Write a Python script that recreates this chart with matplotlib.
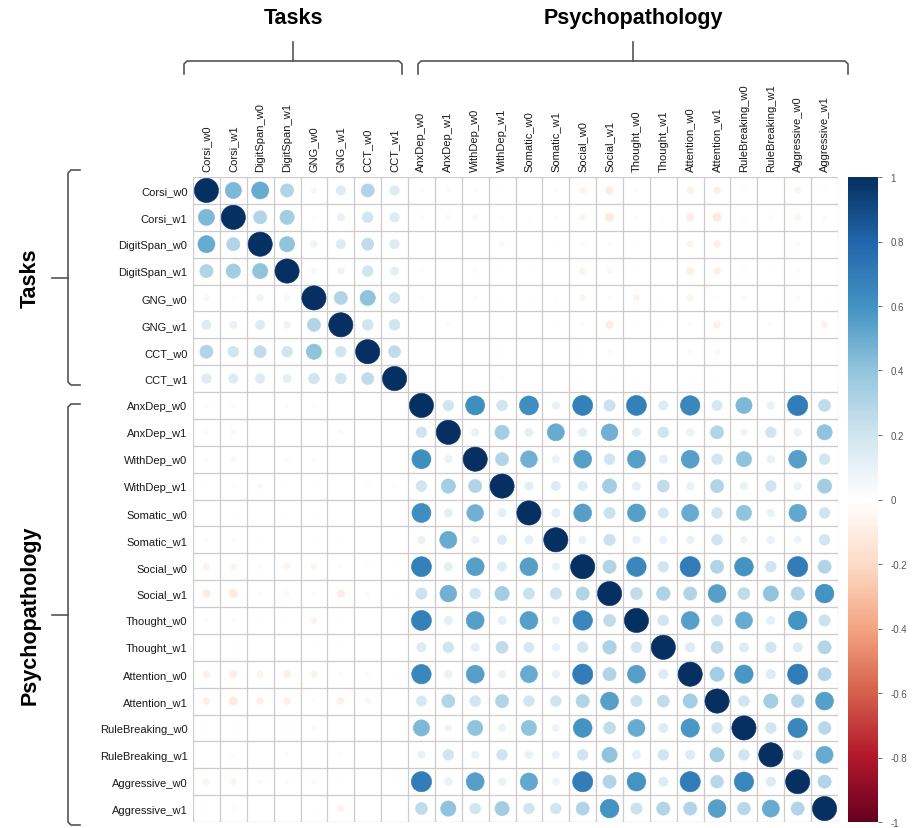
import numpy as np
import matplotlib
matplotlib.use('Agg')
from matplotlib import pyplot as plt
from matplotlib.patches import Circle
from matplotlib.colors import LinearSegmentedColormap, Normalize
import matplotlib.colorbar as mcolorbar

plt.rcParams['font.family'] = ['Liberation Sans', 'DejaVu Sans']

task_vars = ['Corsi_w0', 'Corsi_w1', 'DigitSpan_w0', 'DigitSpan_w1',
             'GNG_w0', 'GNG_w1', 'CCT_w0', 'CCT_w1']
psych_vars = ['AnxDep_w0', 'AnxDep_w1', 'WithDep_w0', 'WithDep_w1',
              'Somatic_w0', 'Somatic_w1', 'Social_w0', 'Social_w1',
              'Thought_w0', 'Thought_w1', 'Attention_w0', 'Attention_w1',
              'RuleBreaking_w0', 'RuleBreaking_w1', 'Aggressive_w0', 'Aggressive_w1']

# correlations among the task scores
task_corr = [
    [1.00, 0.45, 0.50, 0.30, 0.05, 0.15, 0.30, 0.15],
    [0.45, 1.00, 0.30, 0.35, 0.02, 0.10, 0.20, 0.15],
    [0.50, 0.30, 1.00, 0.40, 0.08, 0.15, 0.25, 0.15],
    [0.30, 0.35, 0.40, 1.00, 0.05, 0.08, 0.20, 0.12],
    [0.05, 0.02, 0.08, 0.05, 1.00, 0.30, 0.40, 0.20],
    [0.15, 0.10, 0.15, 0.08, 0.30, 1.00, 0.20, 0.20],
    [0.30, 0.20, 0.25, 0.20, 0.40, 0.20, 1.00, 0.25],
    [0.15, 0.15, 0.15, 0.12, 0.20, 0.20, 0.25, 1.00],
]

# correlations among the CBCL scales
psych_corr = [
    [1.00, 0.20, 0.62, 0.20, 0.62, 0.10, 0.68, 0.22, 0.68, 0.15, 0.65, 0.18, 0.45, 0.10, 0.70, 0.25],
    [0.20, 1.00, 0.10, 0.35, 0.12, 0.50, 0.12, 0.48, 0.12, 0.20, 0.10, 0.30, 0.08, 0.20, 0.10, 0.40],
    [0.62, 0.10, 1.00, 0.30, 0.48, 0.10, 0.55, 0.20, 0.55, 0.12, 0.55, 0.20, 0.40, 0.10, 0.55, 0.20],
    [0.20, 0.35, 0.30, 1.00, 0.12, 0.15, 0.15, 0.35, 0.12, 0.25, 0.10, 0.30, 0.10, 0.20, 0.10, 0.35],
    [0.62, 0.12, 0.48, 0.12, 1.00, 0.12, 0.55, 0.22, 0.55, 0.18, 0.50, 0.20, 0.40, 0.10, 0.52, 0.20],
    [0.10, 0.50, 0.10, 0.15, 0.12, 1.00, 0.10, 0.22, 0.10, 0.10, 0.10, 0.20, 0.08, 0.10, 0.08, 0.20],
    [0.68, 0.12, 0.55, 0.15, 0.55, 0.10, 1.00, 0.30, 0.65, 0.20, 0.70, 0.30, 0.60, 0.20, 0.70, 0.30],
    [0.22, 0.48, 0.20, 0.35, 0.22, 0.22, 0.30, 1.00, 0.25, 0.32, 0.30, 0.55, 0.25, 0.40, 0.30, 0.60],
    [0.68, 0.12, 0.55, 0.12, 0.55, 0.10, 0.65, 0.25, 1.00, 0.20, 0.55, 0.22, 0.50, 0.12, 0.60, 0.22],
    [0.15, 0.20, 0.12, 0.25, 0.18, 0.10, 0.20, 0.32, 0.20, 1.00, 0.15, 0.25, 0.15, 0.20, 0.15, 0.30],
    [0.65, 0.10, 0.55, 0.10, 0.50, 0.10, 0.70, 0.30, 0.55, 0.15, 1.00, 0.35, 0.58, 0.15, 0.70, 0.30],
    [0.18, 0.30, 0.20, 0.30, 0.20, 0.20, 0.30, 0.55, 0.22, 0.25, 0.35, 1.00, 0.20, 0.35, 0.28, 0.55],
    [0.45, 0.08, 0.40, 0.10, 0.40, 0.08, 0.60, 0.25, 0.50, 0.15, 0.58, 0.20, 1.00, 0.20, 0.65, 0.28],
    [0.10, 0.20, 0.10, 0.20, 0.10, 0.10, 0.20, 0.40, 0.12, 0.20, 0.15, 0.35, 0.20, 1.00, 0.15, 0.50],
    [0.70, 0.10, 0.55, 0.10, 0.52, 0.08, 0.70, 0.30, 0.60, 0.15, 0.70, 0.28, 0.65, 0.15, 1.00, 0.30],
    [0.25, 0.40, 0.20, 0.35, 0.20, 0.20, 0.30, 0.60, 0.22, 0.30, 0.30, 0.55, 0.28, 0.50, 0.30, 1.00],
]

# tasks (rows) x CBCL scales (cols)
cross_corr = [
    [0.03, 0.03, 0.02, 0.01, 0.00, 0.02, -0.07, -0.10, 0.02, 0.00, -0.08, -0.08, 0.02, 0.00, -0.06, 0.02],
    [0.03, 0.04, 0.04, 0.02, 0.02, 0.02, -0.06, -0.12, 0.02, 0.02, -0.10, -0.12, 0.02, 0.03, -0.06, 0.03],
    [0.00, 0.00, 0.00, 0.04, 0.00, 0.01, -0.03, -0.03, 0.01, 0.00, -0.07, -0.08, 0.01, 0.00, -0.04, 0.00],
    [0.02, 0.00, 0.03, 0.01, 0.01, 0.00, -0.07, -0.04, 0.01, 0.00, -0.09, -0.08, 0.03, 0.02, 0.03, 0.00],
    [0.02, 0.00, 0.02, 0.01, 0.01, 0.01, -0.06, -0.03, -0.07, 0.01, -0.07, 0.02, 0.03, 0.00, -0.04, 0.01],
    [0.00, 0.03, 0.00, 0.00, 0.00, 0.01, 0.02, -0.10, 0.01, 0.01, 0.02, -0.08, 0.01, 0.03, 0.01, -0.07],
    [0.00, 0.00, 0.00, 0.02, 0.00, 0.00, -0.02, -0.03, 0.01, 0.01, -0.03, -0.05, 0.00, 0.00, 0.01, 0.00],
    [0.00, 0.00, 0.00, 0.02, 0.00, 0.00, 0.01, 0.01, 0.01, 0.00, 0.01, 0.01, 0.01, 0.00, 0.01, 0.01],
]

labels = task_vars + psych_vars
n = len(labels)
cross = np.array(cross_corr)
corr = np.block([[np.array(task_corr), cross],
                 [cross.T, np.array(psych_corr)]])

# corrplot's default RdBu ramp
cmap = LinearSegmentedColormap.from_list('corrplot', [
    '#67001F', '#B2182B', '#D6604D', '#F4A582', '#FDDBC7', '#FFFFFF',
    '#D1E5F0', '#92C5DE', '#4393C3', '#2166AC', '#053061'])
norm = Normalize(-1, 1)

W, H = 915, 829
fig = plt.figure(figsize=(W / 100, H / 100), dpi=100)

gx0, gy0, gsz = 193, 178, 645
ax = fig.add_axes([gx0 / W, 1 - (gy0 + gsz) / H, gsz / W, gsz / H])
ax.set_xlim(0.5, n + 0.5)
ax.set_ylim(n + 0.5, 0.5)
ax.set_aspect('equal')

for k in range(n + 1):
    ax.axhline(k + 0.5, color='#cfcaca', lw=0.9, zorder=1)
    ax.axvline(k + 0.5, color='#cfcaca', lw=0.9, zorder=1)

for i in range(n):
    for j in range(n):
        r = corr[i, j]
        if r == 0:
            continue
        c = cmap(norm(r))
        ax.add_patch(Circle((j + 1, i + 1), 0.45 * np.sqrt(abs(r)),
                            facecolor=c, edgecolor=c, lw=0.4, zorder=2))

ax.xaxis.tick_top()
ax.set_xticks(np.arange(1, n + 1))
ax.set_xticklabels(labels, rotation=90, fontsize=8, color='#1a1a1a')
ax.set_yticks(np.arange(1, n + 1))
ax.set_yticklabels(labels, fontsize=8, color='#1a1a1a')
ax.tick_params(length=0, pad=4)
for s in ax.spines.values():
    s.set_visible(False)

# colour legend
cax = fig.add_axes([848 / W, 1 - (gy0 + gsz) / H, 30 / W, gsz / H])
cb = mcolorbar.ColorbarBase(cax, cmap=cmap, norm=norm,
                            ticks=np.linspace(-1, 1, 11))
cb.set_ticklabels(['-1', '-0.8', '-0.6', '-0.4', '-0.2', '0',
                   '0.2', '0.4', '0.6', '0.8', '1'])
cb.outline.set_visible(False)
cax.tick_params(labelsize=7, colors='#555555', length=3, width=0.6, pad=6)

# group brackets, drawn in pixel space
ov = fig.add_axes([0, 0, 1, 1], zorder=-1)
ov.set_xlim(0, W)
ov.set_ylim(H, 0)
ov.axis('off')
bc = '#555555'


def top_bracket(x0, x1, y=62, drop=13, rise=19):
    xm = (x0 + x1) / 2
    ov.plot([x0, x0, x0 + 3, x1 - 3, x1, x1], [y + drop, y + 3, y, y, y + 3, y + drop],
            color=bc, lw=1.2, solid_joinstyle='round')
    ov.plot([xm, xm], [y, y - rise], color=bc, lw=1.2)
    return xm


def left_bracket(y0, y1, x=68, drop=12, rise=16):
    ym = (y0 + y1) / 2
    ov.plot([x + drop, x + 3, x, x, x + 3, x + drop], [y0, y0, y0 + 3, y1 - 3, y1, y1],
            color=bc, lw=1.2, solid_joinstyle='round')
    ov.plot([x, x - rise], [ym, ym], color=bc, lw=1.2)
    return ym


xm = top_bracket(184, 402)
ov.text(xm, 18, 'Tasks', ha='center', va='center', fontsize=15.5, fontweight='bold')
xm = top_bracket(418, 848)
ov.text(xm, 18, 'Psychopathology', ha='center', va='center', fontsize=15.5, fontweight='bold')

ym = left_bracket(171, 386)
ov.text(30, ym, 'Tasks', ha='center', va='center', rotation=90, fontsize=15.5, fontweight='bold')
ym = left_bracket(405, 826)
ov.text(30, ym, 'Psychopathology', ha='center', va='center', rotation=90, fontsize=15.5, fontweight='bold')

plt.savefig('out.png', dpi=100)
